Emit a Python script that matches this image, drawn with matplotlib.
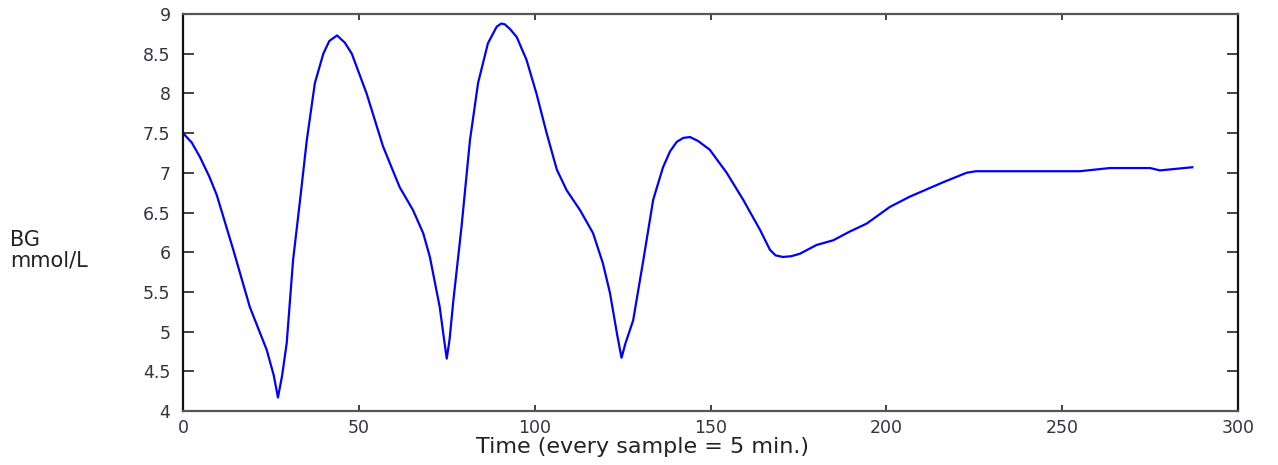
#!/usr/bin/env python3

import matplotlib
matplotlib.use("Agg")
import matplotlib.pyplot as plt
import numpy as np

# blood glucose trace (sample index, mmol/L)
sample = [0, 2.5, 4.8, 7.5, 9.6, 14.3, 19, 23.8, 25.8, 27, 28.2, 29.5, 31.3,
          33.3, 35.2, 37.5, 39.9, 41.6, 43.8, 46, 48, 52.2, 56.9, 61.6, 65.4,
          68.3, 70.2, 73, 74.3, 75, 75.8, 76.9, 79.2, 81.6, 83.9, 86.7, 89.2,
          90.5, 91.5, 93, 94.9, 97.7, 100.5, 103.4, 106.3, 109.1, 112.9, 116.6,
          119.4, 121.4, 123.5, 124.7, 125.8, 128, 130.9, 133.7, 136.5, 138.5,
          140.4, 142.3, 144.2, 146.5, 149.8, 154.6, 159.3, 164.1, 166.9, 168.5,
          170.6, 173, 175.4, 180.1, 184.9, 189.6, 194.4, 201, 206.7, 216.1,
          220, 222.8, 225.5, 227.5, 237, 251.2, 255, 263.6, 275, 277.8, 287]
bg = [7.5, 7.38, 7.2, 6.95, 6.72, 6.03, 5.31, 4.77, 4.45, 4.17, 4.45, 4.86,
      5.9, 6.66, 7.41, 8.13, 8.5, 8.66, 8.73, 8.64, 8.5, 8.0, 7.33, 6.82,
      6.53, 6.24, 5.94, 5.31, 4.88, 4.66, 4.9, 5.4, 6.32, 7.41, 8.13, 8.63,
      8.84, 8.88, 8.87, 8.81, 8.71, 8.42, 8.0, 7.5, 7.04, 6.78, 6.53, 6.24,
      5.86, 5.49, 4.95, 4.67, 4.85, 5.14, 5.9, 6.66, 7.07, 7.27, 7.39, 7.44,
      7.45, 7.4, 7.29, 7.0, 6.66, 6.28, 6.03, 5.96, 5.94, 5.95, 5.98, 6.09,
      6.15, 6.26, 6.36, 6.57, 6.7, 6.88, 6.95, 7.0, 7.02, 7.02, 7.02, 7.02,
      7.02, 7.06, 7.06, 7.03, 7.07]

xticks = [0, 50, 100, 150, 200, 250, 300]
yticks = [4, 4.5, 5, 5.5, 6, 6.5, 7, 7.5, 8, 8.5, 9]
yticklabels = ["4", "4.5", "5", "5.5", "6", "6.5", "7", "7.5", "8", "8.5", "9"]

plt.rcParams["font.family"] = ["DejaVu Sans"]

fig = plt.figure(figsize=(12.78, 4.65), dpi=100)
ax = fig.add_axes([183/1278, 1 - 411/465, (1238-183)/1278, (411-14)/465])

ax.plot(sample, bg, color=(0, 0, 1), lw=1.6)

ax.set_xlim(0, 300)
ax.set_ylim(4, 9)
ax.set_xticks(xticks)
ax.set_yticks(yticks)
ax.set_yticklabels(yticklabels)

for s in ["left", "right"]:
    ax.spines[s].set_color("#111111")
    ax.spines[s].set_linewidth(1.6)
for s in ["top", "bottom"]:
    ax.spines[s].set_color("#555555")
    ax.spines[s].set_linewidth(1.6)

ax.tick_params(axis="both", direction="in", top=True, right=True,
               labelsize=12.5, labelcolor="#333344", color="#222222", width=1.2)
ax.tick_params(axis="y", length=8, pad=9)
ax.tick_params(axis="x", length=4.5, pad=6)

fig.text(642/1278, 1 - 447/465, "Time (every sample = 5 min.)",
         ha="center", va="center", fontsize=16, color="#222222")
fig.text(10/1278, 1 - 250/465, "BG\nmmol/L", ha="left", va="center",
         fontsize=15, color="#222222", linespacing=1.0)

fig.savefig("out.png", dpi=100)
